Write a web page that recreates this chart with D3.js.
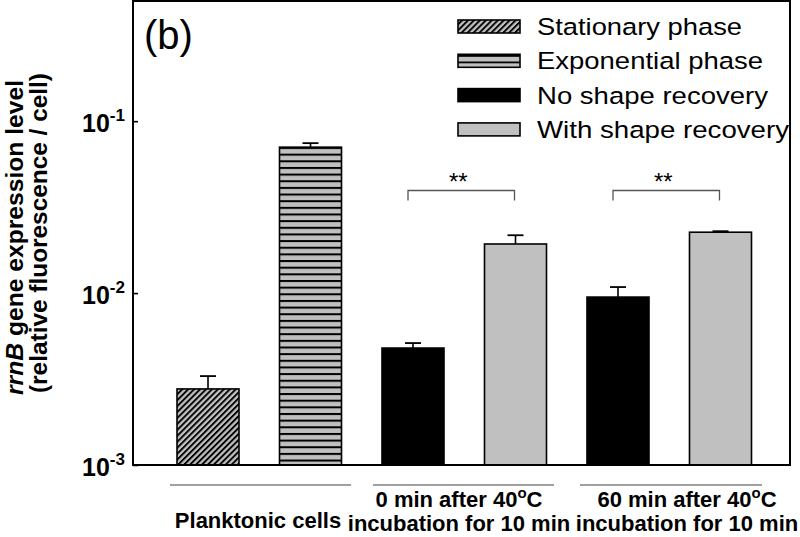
<!DOCTYPE html>
<html><head><meta charset="utf-8">
<script src="https://cdn.jsdelivr.net/npm/d3@7"></script>
<style>body{margin:0;background:#fff}svg{display:block}text{font-family:"Liberation Sans",Arial,sans-serif}</style>
</head><body><svg id="c" width="800" height="537"></svg>
<script>
const bars = ["stat","expo","no0","with0","no60","with60"];
const barSeries = ["Stationary phase","Exponential phase","No shape recovery","With shape recovery","No shape recovery","With shape recovery"];
const values = [0.00277, 0.0706, 0.00479, 0.0193, 0.00948, 0.0226];
const errors = [0.00329, 0.0745, 0.00512, 0.0217, 0.01084, 0.0229];
const seriesNames = ["Stationary phase","Exponential phase","No shape recovery","With shape recovery"];
const groups = [
  {lines:["Planktonic cells"], bars:["stat","expo"]},
  {lines:["0 min after 40°C","incubation for 10 min"], bars:["no0","with0"]},
  {lines:["60 min after 40°C","incubation for 10 min"], bars:["no60","with60"]}
];
const yTicks = [0.1, 0.01, 0.001];
const yTickExp = ["-1","-2","-3"];
const sigPairs = [["no0","with0"],["no60","with60"]];

const svg = d3.select("#c");
const L=133, R=790, T=1, B=465;
const x = d3.scaleBand().domain(bars).range([177, 751.5]).paddingInner(0.395).paddingOuter(0);
const y = d3.scaleLog().domain([0.001, 0.5]).range([B, T]);

const defs = svg.append("defs");
const pd = defs.append("pattern").attr("id","diag").attr("patternUnits","userSpaceOnUse")
  .attr("width",4.2).attr("height",4.2).attr("patternTransform","rotate(45)");
pd.append("rect").attr("width",4.2).attr("height",4.2).attr("fill","#c0c0c0");
pd.append("rect").attr("width",1.9).attr("height",4.2).attr("fill","#000");
const ph = defs.append("pattern").attr("id","horiz").attr("patternUnits","userSpaceOnUse")
  .attr("width",10).attr("height",6.65).attr("y",147);
ph.append("rect").attr("width",10).attr("height",6.65).attr("fill","#c0c0c0");
ph.append("rect").attr("width",10).attr("height",2).attr("fill","#000");
const phl = defs.append("pattern").attr("id","horizL").attr("patternUnits","userSpaceOnUse")
  .attr("width",10).attr("height",6.5).attr("y",55);
phl.append("rect").attr("width",10).attr("height",6.5).attr("fill","#c0c0c0");
phl.append("rect").attr("width",10).attr("height",1.8).attr("fill","#000");

const fillOf = s => s==="Stationary phase"?"url(#diag)":s==="Exponential phase"?"url(#horiz)":s==="No shape recovery"?"#000":"#c0c0c0";

// bars
svg.selectAll("rect.bar").data(bars).enter().append("rect").attr("class","bar")
  .attr("x",d=>x(d)).attr("width",x.bandwidth())
  .attr("y",(d,i)=>y(values[i])).attr("height",(d,i)=>B-y(values[i]))
  .attr("fill",(d,i)=>fillOf(barSeries[i])).attr("stroke","#000").attr("stroke-width",1.6);

// error bars
bars.forEach((b,i)=>{
  const cx = x(b)+x.bandwidth()/2;
  svg.append("line").attr("x1",cx).attr("x2",cx).attr("y1",y(values[i])).attr("y2",y(errors[i])).attr("stroke","#000").attr("stroke-width",1.6);
  svg.append("line").attr("x1",cx-8).attr("x2",cx+8).attr("y1",y(errors[i])).attr("y2",y(errors[i])).attr("stroke","#000").attr("stroke-width",1.8);
});

// frame
svg.append("rect").attr("x",L).attr("y",T).attr("width",R-L).attr("height",B-T).attr("fill","none").attr("stroke","#000").attr("stroke-width",2);

// y axis ticks (inside)
const yAxis = d3.axisLeft(y).tickValues(yTicks).tickSize(-5).tickFormat("");
const ga = svg.append("g").attr("transform",`translate(${L},0)`).call(yAxis);
ga.select(".domain").remove();
ga.selectAll(".tick line").attr("stroke","#000").attr("stroke-width",1.6);
yTicks.forEach((t,i)=>{
  const tx = svg.append("text").attr("x",82).attr("y",y(t)+11)
    .attr("font-size",25).attr("font-weight","bold");
  tx.append("tspan").text("10");
  tx.append("tspan").attr("dy",-11).attr("font-size",17).text(yTickExp[i]);
});

// y title
const yt = svg.append("text").attr("transform","translate(23,237.5) rotate(-90)").attr("text-anchor","middle")
  .attr("font-size",23.5).attr("font-weight","bold").attr("textLength",315).attr("lengthAdjust","spacingAndGlyphs");
yt.append("tspan").attr("font-style","italic").text("rrnB");
yt.append("tspan").text(" gene expression level");
svg.append("text").attr("transform","translate(47,233) rotate(-90)").attr("text-anchor","middle")
  .attr("font-size",23.5).attr("font-weight","bold").attr("textLength",320).attr("lengthAdjust","spacingAndGlyphs")
  .text("(relative fluorescence / cell)");

// group separators & labels
const gx = [[170,351],[373,554],[580,762]];
const labelCx = [258, 459, 687];
groups.forEach((g,i)=>{
  svg.append("line").attr("x1",gx[i][0]).attr("x2",gx[i][1]).attr("y1",485).attr("y2",485).attr("stroke","#808080").attr("stroke-width",1.5);
  const cx = labelCx[i];
  if(g.lines.length===1){
    svg.append("text").attr("x",cx).attr("y",528).attr("text-anchor","middle").attr("font-size",22).attr("font-weight","bold").text(g.lines[0]);
  } else {
    g.lines.forEach((ln,j)=>{
      const t = svg.append("text").attr("x",cx).attr("y",507+j*24).attr("text-anchor","middle").attr("font-size",22).attr("font-weight","bold");
      if(ln.includes("°C")){
        const parts = ln.split("°C");
        t.append("tspan").text(parts[0]);
        t.append("tspan").attr("dy",-9).attr("font-size",15).text("o");
        t.append("tspan").attr("dy",9).text("C");
      } else t.text(ln);
    });
  }
});

// significance
sigPairs.forEach(([a,b],i)=>{
  const x1 = x(a)+x.bandwidth()/2-5, x2 = x(b)+x.bandwidth()/2-1;
  const yt = 190.5, yb = 200.5;
  svg.append("path").attr("d",`M${x1},${yb}V${yt}H${x2}V${yb}`).attr("fill","none").attr("stroke","#555").attr("stroke-width",1.3);
  svg.append("text").attr("x",(x1+x2)/2-3).attr("y",190).attr("text-anchor","middle").attr("font-size",24).text("**");
});

// panel label
svg.append("text").attr("x",144).attr("y",49).attr("font-size",40).text("(b)");

// legend
const legW = [205, 226, 231, 252];
seriesNames.forEach((s,i)=>{
  const yy = 20 + i*34.3;
  svg.append("rect").attr("x",458).attr("y",yy).attr("width",62).attr("height",13)
    .attr("fill", s==="Exponential phase"?"url(#horizL)":fillOf(s)).attr("stroke","#000").attr("stroke-width",1.6);
  svg.append("text").attr("x",537).attr("y",yy+15).attr("font-size",24.5)
    .attr("textLength",legW[i]).attr("lengthAdjust","spacingAndGlyphs").text(s);
});
</script></body></html>
